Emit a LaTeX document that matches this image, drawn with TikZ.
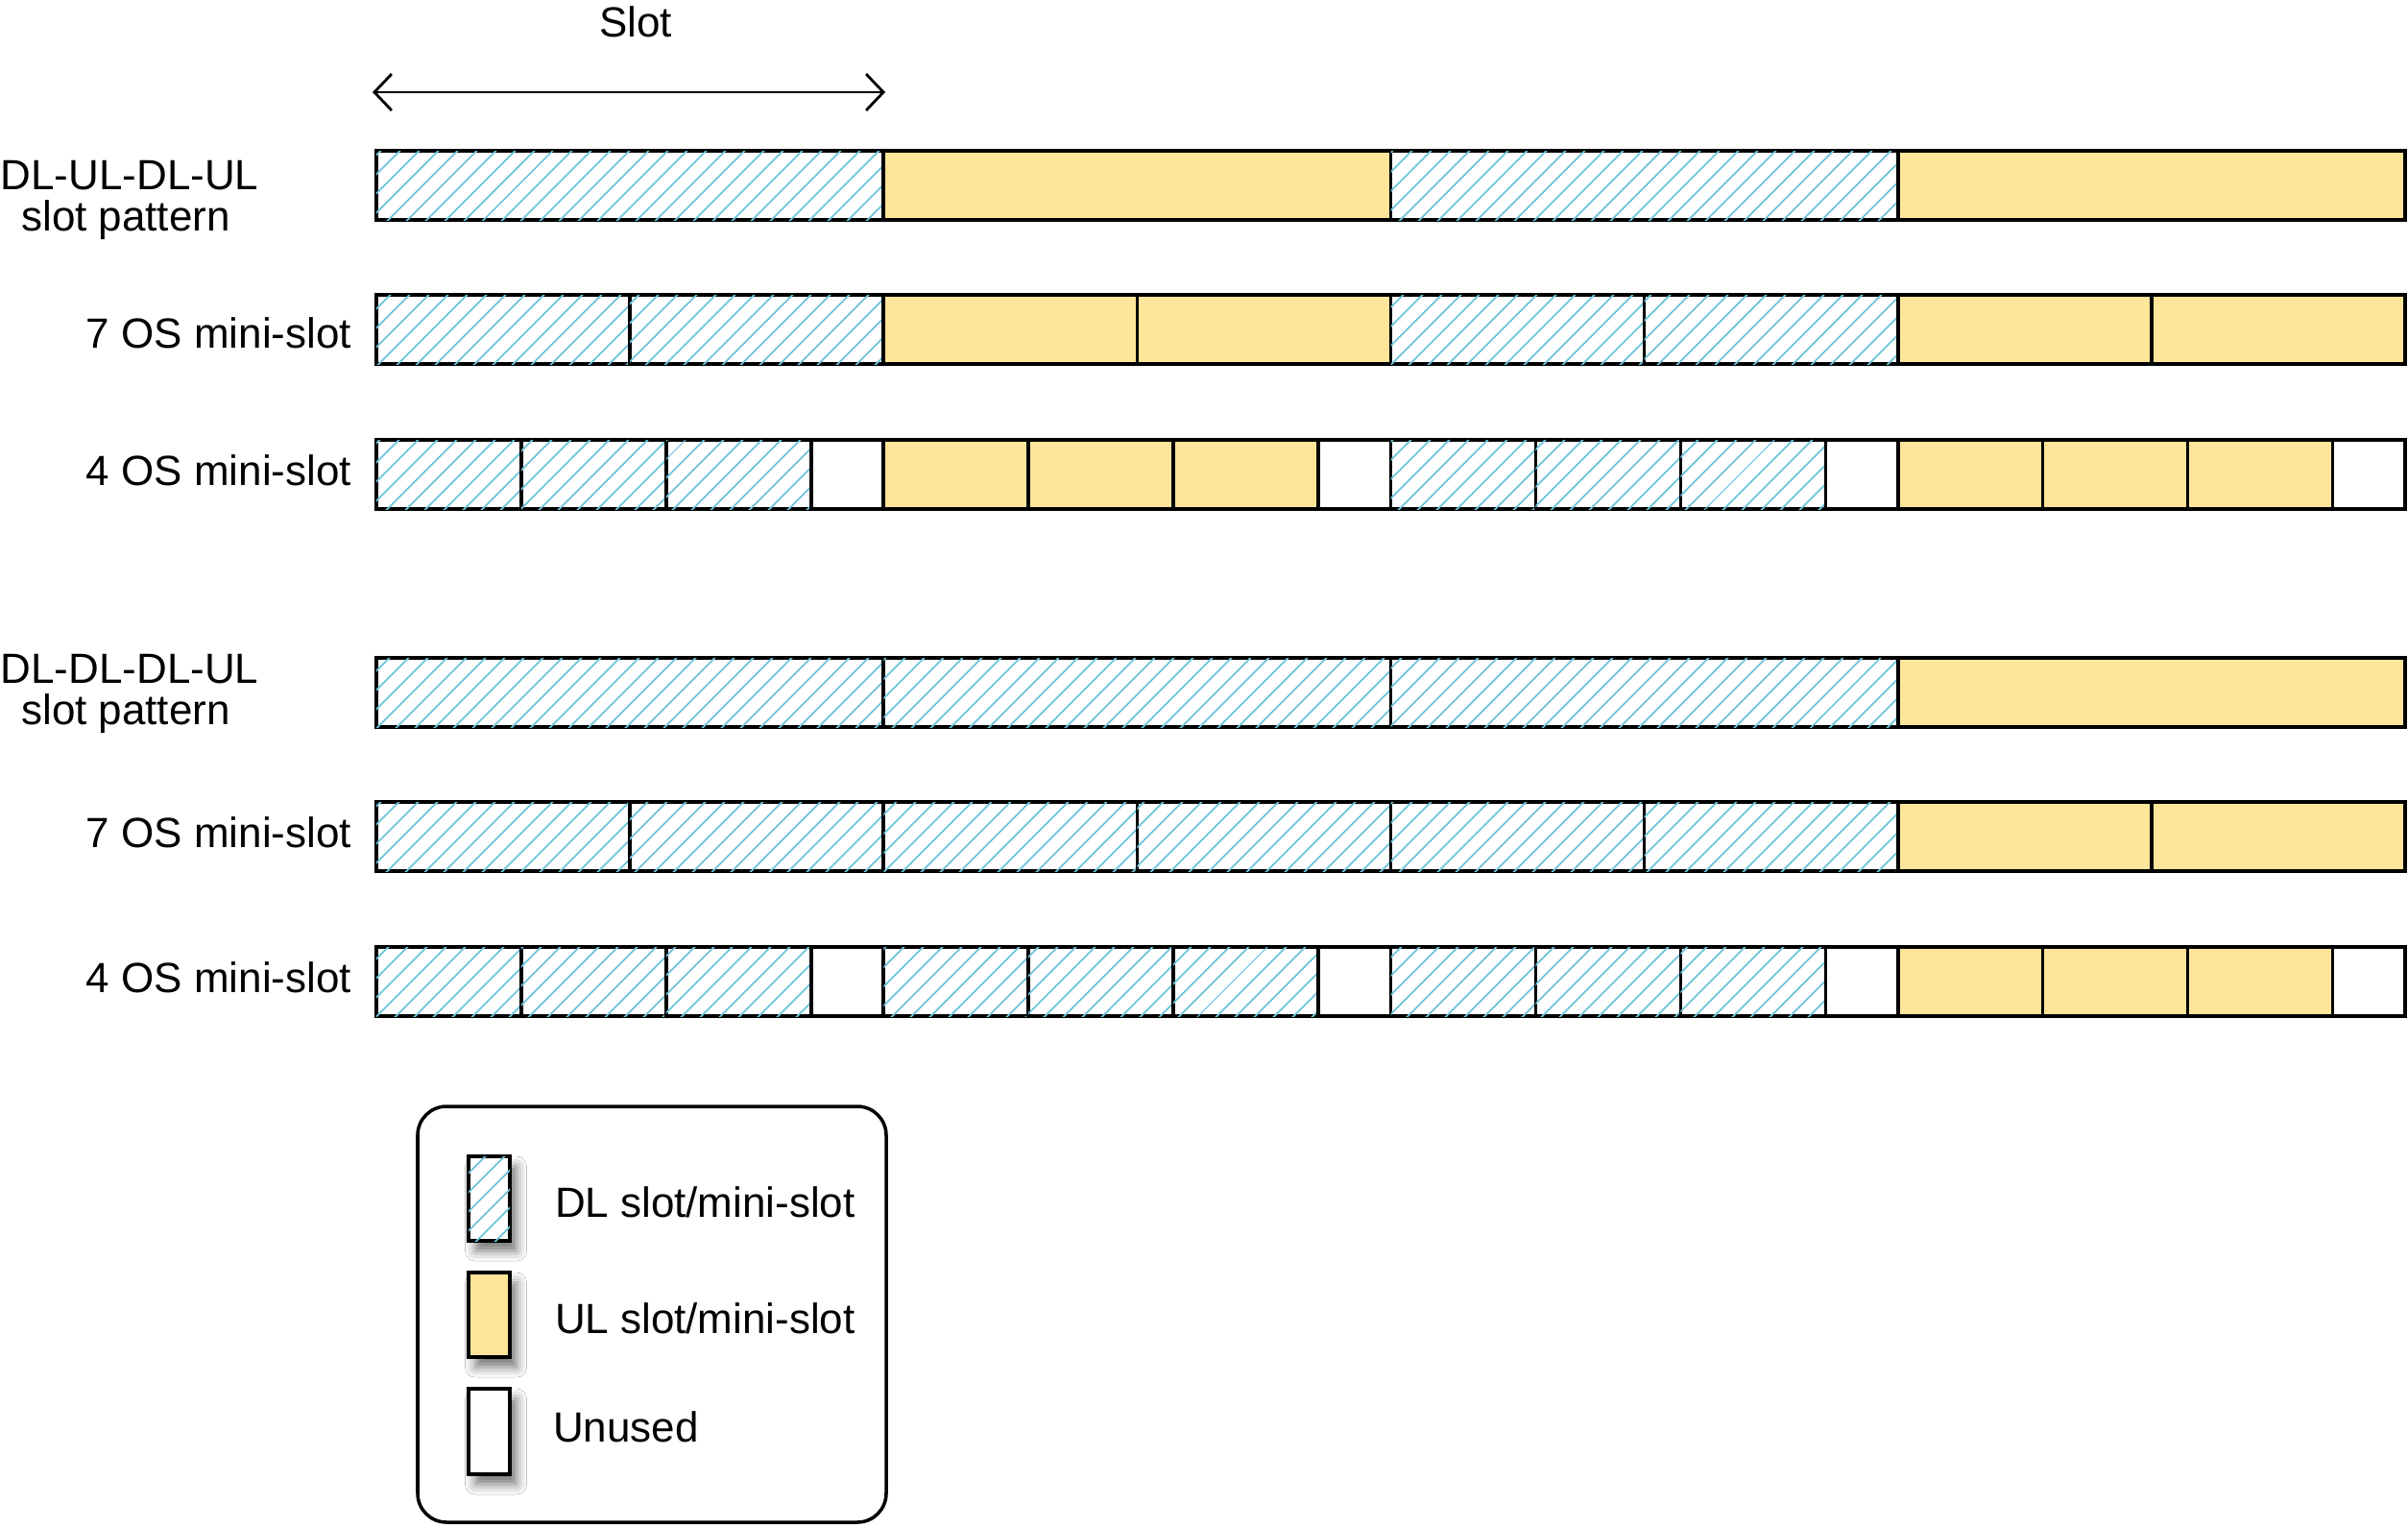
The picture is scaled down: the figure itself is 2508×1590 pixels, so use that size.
\documentclass[tikz,border=0pt]{standalone}
\usepackage{fontspec}
\setmainfont{Liberation Sans}
\usetikzlibrary{patterns.meta,arrows.meta,shadows.blur}
\definecolor{ulyellow}{RGB}{255,229,153}
\definecolor{hatchblue}{RGB}{110,196,219}
\tikzset{
  cellbase/.style={draw=black,line width=1pt},
  dl/.style={fill=white,postaction={pattern={Lines[angle=45,distance=4pt,line width=0.55pt]},pattern color=hatchblue}},
  ul/.style={fill=ulyellow},
  un/.style={fill=white},
  lbl/.style={font=\fontsize{12.5}{14}\selectfont,inner sep=0pt,outer sep=0pt},
  legbox/.style={draw=black,line width=1pt,rounded corners=0.3cm},
  swatch/.style={draw=black,line width=1pt,blur shadow={shadow xshift=2pt,shadow yshift=-3pt,shadow blur radius=3pt,shadow opacity=55}},
}
\newcommand\segrow[2]{%
  \foreach \a/\b/\s in {#2}{%
    \path[cellbase,\s] ({392+\a*37.732},{#1+2}) rectangle ({392+\b*37.732},{#1+74});
  }}
\begin{document}
\begin{tikzpicture}[x=0.01cm,y=-0.01cm]
\useasboundingbox (0,0) rectangle (2508,1590);
\fill[white] (0,0) rectangle (2508,1590);

% slot arrow
\coordinate (aL) at (388,96);
\coordinate (aR) at (922,96);
\draw[line width=0.8pt,{Straight Barb[length=0.18cm,width=0.38cm]}-{Straight Barb[length=0.18cm,width=0.38cm]}] (aL) -- (aR);
\node[lbl,anchor=base] (slot) at (662,38) {Slot};

% rows
\segrow{155}{0/14/dl,14/28/ul,28/42/dl,42/56/ul}
\segrow{305}{0/7/dl,7/14/dl,14/21/ul,21/28/ul,28/35/dl,35/42/dl,42/49/ul,49/56/ul}
\segrow{456}{0/4/dl,4/8/dl,8/12/dl,12/14/un,14/18/ul,18/22/ul,22/26/ul,26/28/un,28/32/dl,32/36/dl,36/40/dl,40/42/un,42/46/ul,46/50/ul,50/54/ul,54/56/un}
\segrow{683}{0/14/dl,14/28/dl,28/42/dl,42/56/ul}
\segrow{833}{0/7/dl,7/14/dl,14/21/dl,21/28/dl,28/35/dl,35/42/dl,42/49/ul,49/56/ul}
\segrow{984}{0/4/dl,4/8/dl,8/12/dl,12/14/un,14/18/dl,18/22/dl,22/26/dl,26/28/un,28/32/dl,32/36/dl,36/40/dl,40/42/un,42/46/ul,46/50/ul,50/54/ul,54/56/un}

% row labels
\node[lbl,anchor=base] (r1a) at (135,197) {DL-UL-DL-UL};
\node[lbl,anchor=base] (r1b) at (131,240) {slot pattern};
\node[lbl,anchor=base east] (r2) at (366,362) {7 OS mini-slot};
\node[lbl,anchor=base east] (r3) at (366,505) {4 OS mini-slot};
\node[lbl,anchor=base] (r4a) at (135,711) {DL-DL-DL-UL};
\node[lbl,anchor=base] (r4b) at (131,754) {slot pattern};
\node[lbl,anchor=base east] (r5) at (366,882) {7 OS mini-slot};
\node[lbl,anchor=base east] (r6) at (366,1033) {4 OS mini-slot};

% legend
\draw[legbox] (435,1152) rectangle (923,1585);
\path[swatch,dl] (488,1204) rectangle (531,1292);
\path[swatch,ul] (488,1325) rectangle (531,1413);
\path[swatch,un] (488,1446) rectangle (531,1535);
\node[lbl,anchor=base west] (k1) at (578,1267) {DL slot/mini-slot};
\node[lbl,anchor=base west] (k2) at (578,1388) {UL slot/mini-slot};
\node[lbl,anchor=base west] (k3) at (576,1501) {Unused};
\end{tikzpicture}
\end{document}
